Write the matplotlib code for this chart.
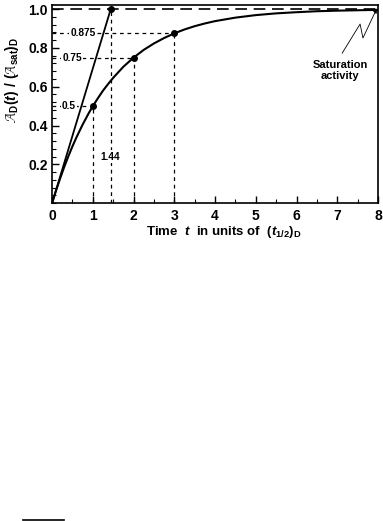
import matplotlib
matplotlib.use("Agg")
import matplotlib.pyplot as plt
from matplotlib.lines import Line2D
from matplotlib.ticker import MultipleLocator

plt.rcParams['font.family'] = ['Liberation Sans', 'DejaVu Sans']
plt.rcParams['mathtext.fontset'] = 'custom'
plt.rcParams['mathtext.rm'] = 'Liberation Sans:bold'
plt.rcParams['mathtext.it'] = 'Liberation Sans:bold:italic'
plt.rcParams['mathtext.bf'] = 'Liberation Sans:bold'

# activity growth curve
t_vals = [0, 0.1, 0.2, 0.3, 0.4, 0.5, 0.6, 0.75, 0.9, 1, 1.125, 1.25, 1.375,
          1.5, 1.75, 2, 2.25, 2.5, 2.75, 3, 3.25, 3.5, 3.75, 4, 4.5, 5, 5.5,
          6, 6.5, 7, 7.5, 8]
a_vals = [0, 0.067, 0.129, 0.188, 0.242, 0.293, 0.340, 0.405, 0.464, 0.5,
          0.541, 0.580, 0.614, 0.646, 0.703, 0.75, 0.790, 0.823, 0.851, 0.875,
          0.895, 0.912, 0.926, 0.938, 0.956, 0.969, 0.978, 0.984, 0.989,
          0.992, 0.994, 0.996]

# initial slope line
tan_t = [0, 1.44]
tan_a = [0, 1.0]

# marked points
pt_t = [1, 2, 3, 1.44]
pt_a = [0.5, 0.75, 0.875, 1.0]
pt_labels = ["0.5", "0.75", "0.875"]
pt_label_x = [0.41, 0.49, 0.76]

x_ticks = [0, 1, 2, 3, 4, 5, 6, 7, 8]
y_ticks = [0.2, 0.4, 0.6, 0.8, 1.0]

fig = plt.figure(figsize=(3.83, 5.21), dpi=100)
ax = fig.add_axes([0.136, 0.610, 0.851, 0.380])

ax.plot(t_vals, a_vals, color='black', lw=1.5)
ax.plot(tan_t, tan_a, color='black', lw=1.3)
ax.axhline(1.0, color='black', lw=1.2, ls=(0, (7, 4)))

for x, y in zip(pt_t, pt_a):
    ax.plot([x, x], [0, y], color='black', lw=0.9, ls=(0, (3, 3)))
    if y < 1.0:
        ax.plot([0, x], [y, y], color='black', lw=0.9, ls=(0, (3, 3)))
ax.plot(pt_t, pt_a, 'o', color='black', ms=4)

for lab, lx, y in zip(pt_labels, pt_label_x, pt_a):
    ax.text(lx, y, lab, fontsize=7.3, fontweight='bold', ha='center', va='center',
            bbox=dict(facecolor='white', edgecolor='none', pad=0.8))
ax.text(1.43, 0.24, "1.44", fontsize=7.3, fontweight='bold', ha='center', va='center',
        bbox=dict(facecolor='white', edgecolor='none', pad=0.8))

# zig-zag arrow to saturation level
zx = [7.12, 7.56, 7.63, 7.93]
zy = [0.773, 0.923, 0.851, 0.985]
ax.plot(zx, zy, color='black', lw=0.6)
ax.annotate("", xy=(7.99, 1.0), xytext=(zx[-1], zy[-1]),
            arrowprops=dict(arrowstyle='-|>', color='black', lw=0.6,
                            mutation_scale=6, shrinkA=0, shrinkB=0))
ax.text(7.07, 0.685, "Saturation\nactivity", fontsize=8, fontweight='bold',
        ha='center', va='center', linespacing=1.1)

ax.set_xlim(0, 8)
ax.set_ylim(0, 1.02)
ax.set_xticks(x_ticks)
ax.set_yticks(y_ticks)
ax.set_xticklabels([str(v) for v in x_ticks], fontsize=10, fontweight='bold')
ax.set_yticklabels(["%.1f" % v for v in y_ticks], fontsize=10, fontweight='bold')
ax.xaxis.set_minor_locator(MultipleLocator(0.5))
ax.yaxis.set_minor_locator(MultipleLocator(0.04))
ax.tick_params(which='major', direction='in', length=5, width=1)
ax.tick_params(axis='x', which='major', pad=4)
ax.tick_params(axis='y', which='major', pad=3)
ax.tick_params(which='minor', direction='in', length=3, width=0.8)
for s in ax.spines.values():
    s.set_linewidth(1.2)

fig.text(0.585, 0.555, r"Time  $t$  in units of  $(t_{1/2})_{\mathrm{D}}$",
         fontsize=9.5, fontweight='bold', ha='center', va='center')
fig.text(0.031, 0.846,
         r"$\mathcal{A}_{\mathrm{D}}(t)\ /\ (\mathcal{A}_{\mathrm{sat}})_{\mathrm{D}}$",
         fontsize=10, rotation=90, ha='center', va='center')

fig.add_artist(Line2D([23 / 383, 64 / 383], [1.5 / 521, 1.5 / 521],
                      color='black', lw=1.2, transform=fig.transFigure))

fig.savefig("out.png", dpi=100)
